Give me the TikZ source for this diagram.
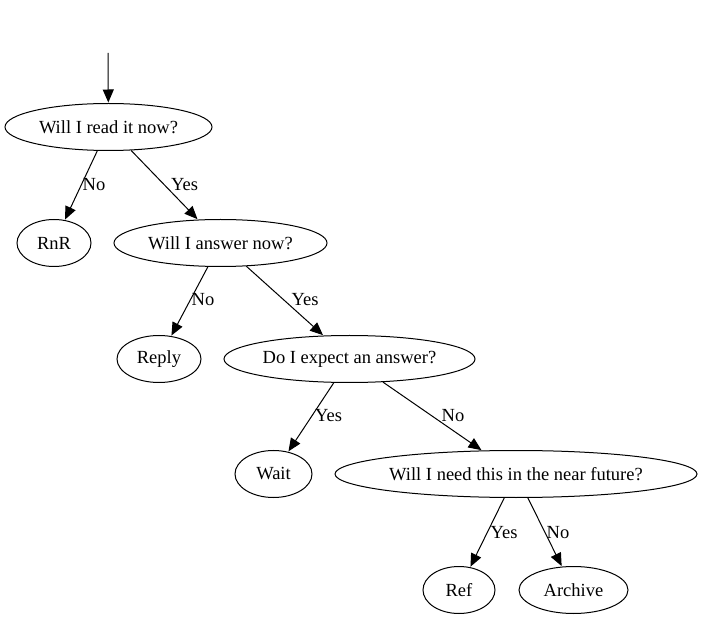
\documentclass[tikz,border=0pt]{standalone}
\usepackage{fontspec}
\setmainfont{Liberation Serif}
\usetikzlibrary{shapes.geometric,arrows.meta}
\begin{document}
\begin{tikzpicture}[x=1pt,y=-1pt,
  every node/.style={font=\fontsize{18.5}{21}\selectfont},
  el/.style={draw,ellipse,line width=1pt,inner sep=0pt,minimum height=47pt},
  edge/.style={draw,line width=1pt,-{Triangle[length=13pt,width=11pt]},shorten >=0.5pt},
  lbl/.style={inner sep=0pt}]
\useasboundingbox (0,0) rectangle (702,620);
\coordinate (start) at (108,53);
\node[el,minimum width=207pt] (read) at (108.5,127) {Will I read it now?};
\node[el,minimum width=74pt] (rnr) at (54,243) {RnR};
\node[el,minimum width=213pt] (answer) at (220.5,243) {Will I answer now?};
\node[el,minimum width=84pt] (reply) at (159,359) {Reply};
\node[el,minimum width=251pt] (expect) at (349.5,359) {Do I expect an answer?};
\node[el,minimum width=77pt] (wait) at (273.5,474) {Wait};
\node[el,minimum width=362pt] (future) at (516,474) {Will I need this in the near future?};
\node[el,minimum width=72pt] (ref) at (459,590) {Ref};
\node[el,minimum width=109pt] (archive) at (573.5,590) {Archive};
\draw[edge] (start) -- (read);
\draw[edge] (read) -- (rnr);
\draw[edge] (read) -- (answer);
\draw[edge] (answer) -- (reply);
\draw[edge] (answer) -- (expect);
\draw[edge] (expect) -- (wait);
\draw[edge] (expect) -- (future);
\draw[edge] (future) -- (ref);
\draw[edge] (future) -- (archive);
\node[lbl] (l1) at (94,185) {No};
\node[lbl] (l2) at (184.5,185) {Yes};
\node[lbl] (l3) at (203,300) {No};
\node[lbl] (l4) at (305,300) {Yes};
\node[lbl] (l5) at (328.5,416) {Yes};
\node[lbl] (l6) at (453,416) {No};
\node[lbl] (l7) at (504,533) {Yes};
\node[lbl] (l8) at (558,533) {No};
\end{tikzpicture}
\end{document}
